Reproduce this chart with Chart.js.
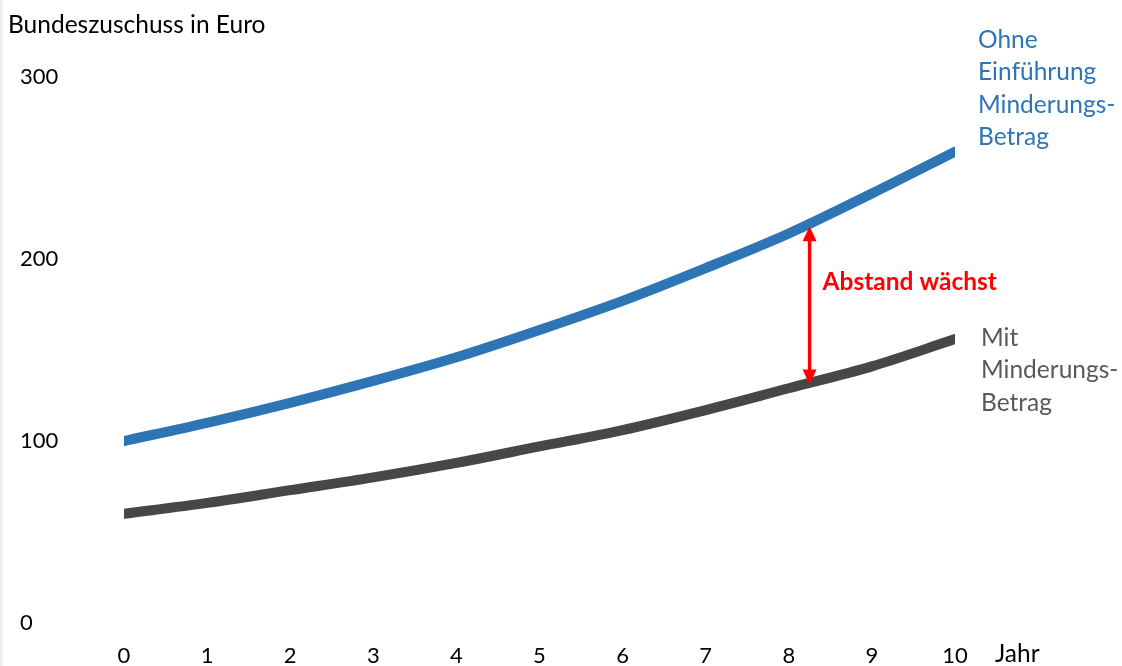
<!DOCTYPE html>
<html lang="de">
<head>
<meta charset="utf-8">
<title>Bundeszuschuss in Euro</title>
<script src="https://cdn.jsdelivr.net/npm/chart.js@4/dist/chart.umd.min.js"></script>
<style>
  html, body { margin: 0; padding: 0; background: #ffffff; }
  #wrap { position: relative; width: 1122px; height: 666px; }
  #edge { position: absolute; left: 0; top: 0; width: 3px; height: 666px; background: #efefef; }
  canvas { display: block; }
</style>
</head>
<body>
<div id="wrap">
  <canvas id="chart" width="1122" height="666"></canvas>
  <div id="edge"></div>
</div>
<script>
// Jahre 0 bis 10
const years = [0, 1, 2, 3, 4, 5, 6, 7, 8, 9, 10];
// Bundeszuschuss ohne Einführung des Minderungs-Betrags
const ohneMinderung = [100, 110, 121, 133, 146, 161, 177, 195, 214, 236, 259];
// Bundeszuschuss mit Minderungs-Betrag
const mitMinderung = [60, 66, 73, 80, 88, 97, 106, 117, 129, 141, 156];
// Y-Achse
const yTicks = [0, 100, 200, 300];
// Pfeil "Abstand wächst" zwischen beiden Kurven
const abstandJahr = 8.25;
const abstandOben = 218;
const abstandUnten = 131;

const FONT = 'Lato, Calibri, "Open Sans", sans-serif';
const BLUE = '#2e75b6';
const GREY = '#474747';
const TEXT_SIZE = 24.5;

const labelsPlugin = {
  id: 'labels',
  afterDatasetsDraw(chart) {
    const { ctx, scales: { x, y } } = chart;
    ctx.save();
    ctx.textBaseline = 'middle';
    ctx.textAlign = 'left';

    // Achsentitel
    ctx.fillStyle = '#000000';
    ctx.font = TEXT_SIZE + 'px ' + FONT;
    ctx.fillText('Bundeszuschuss in Euro', 8, 25);
    ctx.fillText('Jahr', 995, 654);

    // Beschriftung der Kurven
    const xEnd = x.getPixelForValue(years[years.length - 1]);
    ctx.fillStyle = BLUE;
    ['Ohne', 'Einführung', 'Minderungs-', 'Betrag'].forEach((t, i) => {
      ctx.fillText(t, xEnd + 23, 40 + i * 32.5);
    });
    ctx.fillStyle = '#595959';
    ['Mit', 'Minderungs-', 'Betrag'].forEach((t, i) => {
      ctx.fillText(t, xEnd + 26, 338 + i * 32.5);
    });

    // Pfeil
    const ax = x.getPixelForValue(abstandJahr);
    const yTop = y.getPixelForValue(abstandOben);
    const yBot = y.getPixelForValue(abstandUnten);
    const head = 15, half = 7;
    ctx.strokeStyle = '#ff0000';
    ctx.fillStyle = '#ff0000';
    ctx.lineWidth = 3.5;
    ctx.beginPath();
    ctx.moveTo(ax, yTop + head - 2);
    ctx.lineTo(ax, yBot - head + 2);
    ctx.stroke();
    ctx.beginPath();
    ctx.moveTo(ax, yTop);
    ctx.lineTo(ax - half, yTop + head);
    ctx.lineTo(ax + half, yTop + head);
    ctx.closePath();
    ctx.fill();
    ctx.beginPath();
    ctx.moveTo(ax, yBot);
    ctx.lineTo(ax - half, yBot - head);
    ctx.lineTo(ax + half, yBot - head);
    ctx.closePath();
    ctx.fill();

    ctx.font = 'bold ' + TEXT_SIZE + 'px ' + FONT;
    ctx.fillText('Abstand wächst', ax + 13, 282);
    ctx.restore();
  }
};

new Chart(document.getElementById('chart'), {
  type: 'line',
  data: {
    datasets: [
      {
        label: 'Ohne Einführung Minderungs-Betrag',
        data: years.map((j, i) => ({ x: j, y: ohneMinderung[i] })),
        borderColor: BLUE,
        borderWidth: 10,
        borderCapStyle: 'round',
        borderJoinStyle: 'round',
        pointRadius: 0,
        cubicInterpolationMode: 'monotone',
        fill: false
      },
      {
        label: 'Mit Minderungs-Betrag',
        data: years.map((j, i) => ({ x: j, y: mitMinderung[i] })),
        borderColor: GREY,
        borderWidth: 10,
        borderCapStyle: 'round',
        borderJoinStyle: 'round',
        pointRadius: 0,
        cubicInterpolationMode: 'monotone',
        fill: false
      }
    ]
  },
  options: {
    responsive: false,
    animation: false,
    layout: { padding: { left: 20, right: 167, top: 77, bottom: 0 } },
    plugins: { legend: { display: false }, tooltip: { enabled: false } },
    scales: {
      x: {
        type: 'linear',
        min: 0,
        max: 10,
        afterBuildTicks(scale) { scale.ticks = years.map(v => ({ value: v })); },
        afterFit(scale) { scale.height = 43; },
        grid: { display: false, drawTicks: false },
        border: { display: false },
        ticks: {
          color: '#000000',
          font: { family: FONT, size: 22 },
          padding: 20,
          maxRotation: 0,
          autoSkip: false
        }
      },
      y: {
        min: 0,
        max: 300,
        afterBuildTicks(scale) { scale.ticks = yTicks.map(v => ({ value: v })); },
        afterFit(scale) { scale.width = 104; },
        grid: { display: false, drawTicks: false },
        border: { display: false },
        ticks: {
          color: '#000000',
          font: { family: FONT, size: 22 },
          crossAlign: 'far',
          padding: 0
        }
      }
    }
  },
  plugins: [labelsPlugin]
});
</script>
</body>
</html>
